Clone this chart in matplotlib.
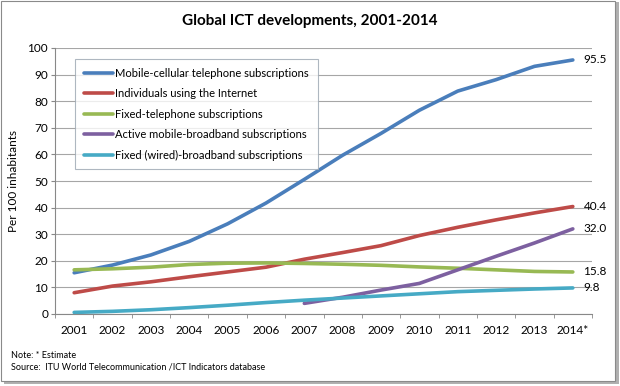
import matplotlib.pyplot as plt
from matplotlib.patches import Rectangle

years = ["2001", "2002", "2003", "2004", "2005", "2006", "2007",
         "2008", "2009", "2010", "2011", "2012", "2013", "2014*"]

mobile = [15.5, 18.4, 22.2, 27.3, 33.9, 41.7, 50.6, 59.7, 67.9, 76.6, 83.8, 88.1, 93.1, 95.5]
internet = [8.0, 10.5, 12.1, 14.0, 15.8, 17.6, 20.6, 23.1, 25.7, 29.5, 32.6, 35.4, 38.0, 40.4]
fixed_tel = [16.6, 17.0, 17.6, 18.6, 19.1, 19.2, 19.0, 18.7, 18.3, 17.7, 17.2, 16.6, 16.0, 15.8]
mob_bb = [None] * 6 + [4.0, 6.3, 9.0, 11.5, 16.6, 21.7, 26.7, 32.0]
fixed_bb = [0.6, 1.0, 1.6, 2.4, 3.3, 4.3, 5.2, 6.0, 6.8, 7.6, 8.4, 8.9, 9.4, 9.8]

series = [
    ("Mobile-cellular telephone subscriptions", mobile, "#4A7EBB"),
    ("Individuals using the Internet", internet, "#BE4B48"),
    ("Fixed-telephone subscriptions", fixed_tel, "#98B954"),
    ("Active mobile-broadband subscriptions", mob_bb, "#7D60A0"),
    ("Fixed (wired)-broadband subscriptions", fixed_bb, "#46AAC5"),
]

plt.rcParams['font.family'] = ['Lato', 'DejaVu Sans']

fig = plt.figure(figsize=(6.2, 3.86), dpi=100)
# outer frame with a little shadow
fig.patches.append(Rectangle((0.006, 0.004), 0.992, 0.99, transform=fig.transFigure,
                             facecolor="#b0b0b0", edgecolor="none", zorder=-2))
fig.patches.append(Rectangle((0.002, 0.012), 0.99, 0.985, transform=fig.transFigure,
                             facecolor="white", edgecolor="#8a8a8a", lw=0.8, zorder=-1))

ax = fig.add_axes([55 / 620, 1 - 314 / 386, (592 - 55) / 620, (314 - 48) / 386])

x = list(range(len(years)))
for name, vals, col in series:
    xs = [i for i, v in zip(x, vals) if v is not None]
    ys = [v for v in vals if v is not None]
    ax.plot(xs, ys, color=col, lw=2.6, label=name, solid_capstyle="round")
    ax.text(xs[-1] + 0.28, ys[-1], f"{ys[-1]:.1f}", va="center", ha="left", fontsize=8.5)

ax.set_xlim(-0.5, len(years) - 0.5)
ax.set_ylim(0, 100)
ax.set_yticks(range(0, 101, 10))
ax.tick_params(axis="y", labelsize=8.5, length=3, color="#888888", pad=2)
ax.set_xticks(x)
ax.set_xticklabels(years, fontsize=8.5)
ax.tick_params(axis="x", length=0, pad=8)
ax.set_xticks([i - 0.5 for i in range(len(years) + 1)], minor=True)
ax.tick_params(axis="x", which="minor", length=3, color="#888888")
ax.grid(axis="y", color="#a6a6a6", lw=0.8)
ax.set_axisbelow(True)
for s in ["top", "right"]:
    ax.spines[s].set_visible(False)
for s in ["left", "bottom"]:
    ax.spines[s].set_color("#888888")
ax.set_ylabel("Per 100 inhabitants", fontsize=8.5, labelpad=6)

leg = ax.legend(loc="upper left", bbox_to_anchor=(0.027, 0.98), fontsize=8,
                handlelength=2.6, handletextpad=0.2, labelspacing=0.85,
                fancybox=False, borderpad=0.8)
leg.get_frame().set_edgecolor("#9aa5b1")
leg.get_frame().set_linewidth(0.8)

fig.text(0.5, 0.945, "Global ICT developments, 2001-2014", ha="center", va="center",
         fontsize=11, fontweight="bold")
fig.text(0.018, 0.078, "Note: * Estimate", fontsize=6.5, va="center")
fig.text(0.018, 0.048, "Source:  ITU World Telecommunication /ICT Indicators database",
         fontsize=6.5, va="center")

fig.savefig("out.png", dpi=100)
